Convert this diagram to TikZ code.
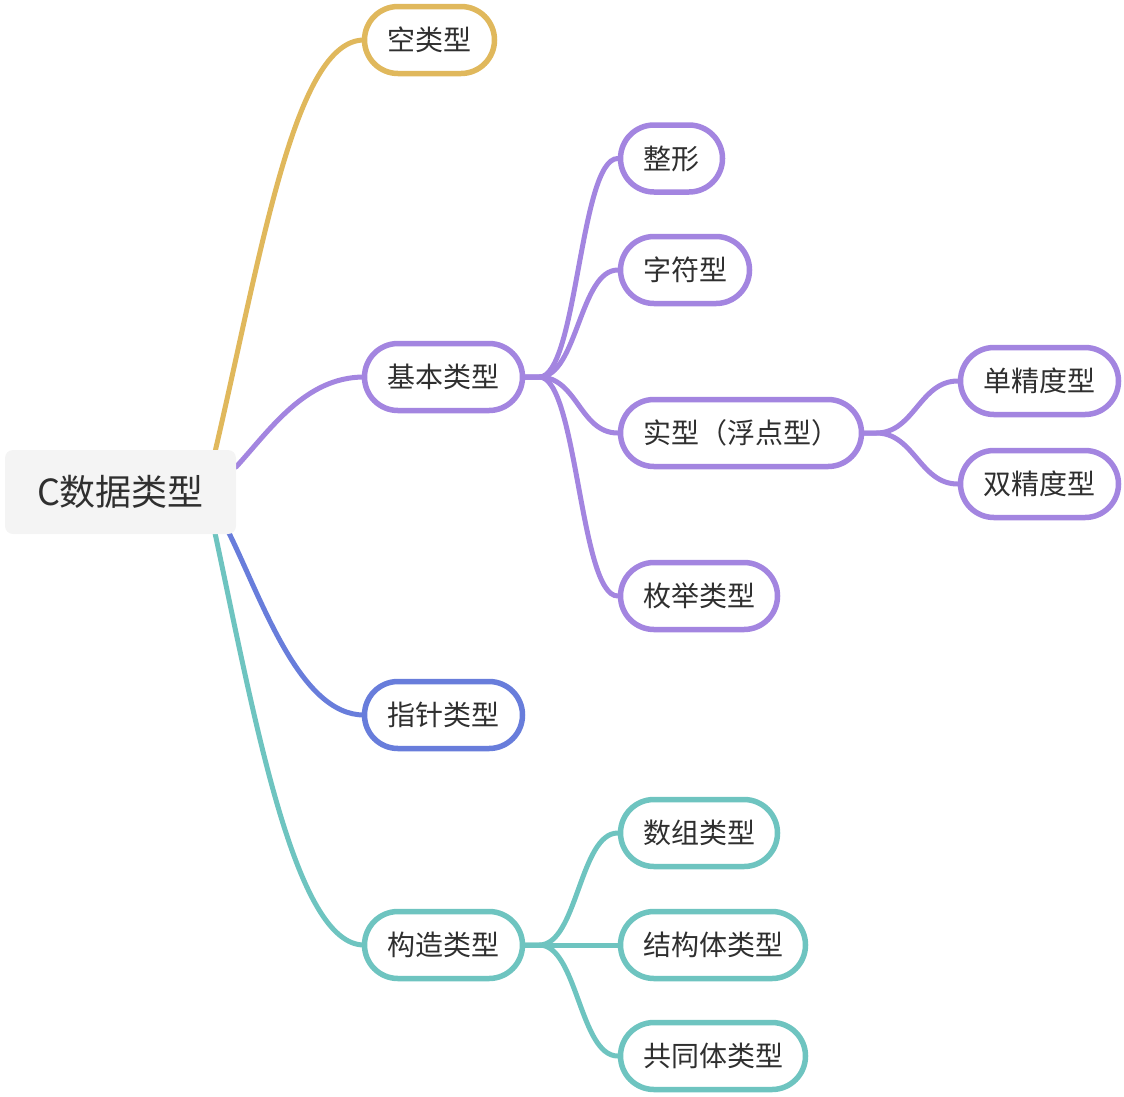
\documentclass[tikz,border=0pt]{standalone}
\usepackage{fontspec}
\newfontfamily\cjk{Noto Sans CJK SC}
\usetikzlibrary{calc}
\definecolor{cyel}{HTML}{E0B85C}
\definecolor{cpur}{HTML}{A385E0}
\definecolor{cblu}{HTML}{687DDB}
\definecolor{cteal}{HTML}{6EC4C0}
\definecolor{ctext}{HTML}{2F2F2F}
\definecolor{croot}{HTML}{F4F4F4}
\tikzset{
  pill/.style n args={2}{draw=#1, line width=5.5pt, fill=white, rounded corners=33.5pt,
    minimum width=#2, minimum height=67pt, inner sep=0pt, text=ctext,
    font=\cjk\fontsize{28}{31}\selectfont},
  rootbox/.style={fill=croot, rounded corners=8pt, minimum width=231pt, minimum height=84pt,
    inner sep=0pt, text=ctext, font=\cjk\fontsize{36}{40}\selectfont},
  link/.style={draw=#1, line width=5pt, line cap=round}
}
\begin{document}
\begin{tikzpicture}[x=1pt,y=-1pt]
\useasboundingbox (0,0) rectangle (1124,1096);
\coordinate (ry) at (215,452);
\coordinate (rp) at (236,467);
\coordinate (rb) at (229,533);
\coordinate (rt) at (215,533);
\coordinate (kw) at (364,40);
\coordinate (jw) at (364,377);
\coordinate (zw) at (364,715);
\coordinate (gw) at (364,945);

\draw[link=cyel] (ry) .. controls (262,250) and (295,40) .. (kw);
\draw[link=cpur] (rp) .. controls (270,430) and (305,377) .. (jw);
\draw[link=cblu] (rb) .. controls (262,600) and (300,715) .. (zw);
\draw[link=cteal] (rt) .. controls (255,720) and (295,945) .. (gw);

\node[rootbox] (root) at (120.5,492) {C数据类型};

\node[pill={cyel}{130pt}] (kong) at (429.5,40) {空类型};
\node[pill={cpur}{158pt}] (jiben) at (443.5,377) {基本类型};
\node[pill={cblu}{158pt}] (zhizhen) at (443.5,715) {指针类型};
\node[pill={cteal}{158pt}] (gouzao) at (443.5,945) {构造类型};

\node[pill={cpur}{102pt}] (zheng) at (671.5,158.5) {整形};
\node[pill={cpur}{129pt}] (zifu) at (685,270) {字符型};
\node[pill={cpur}{241pt}] (shi) at (741,433) {实型（浮点型）};
\node[pill={cpur}{157pt}] (meiju) at (699,596) {枚举类型};
\node[pill={cpur}{158pt}] (dan) at (1039.5,381) {单精度型};
\node[pill={cpur}{158pt}] (shuang) at (1039.5,484) {双精度型};

\node[pill={cteal}{157pt}] (shuzu) at (699,833) {数组类型};
\node[pill={cteal}{185pt}] (jiegou) at (713,945) {结构体类型};
\node[pill={cteal}{185pt}] (gongtong) at (713,1056) {共同体类型};

\coordinate (jb) at ($(jiben.east)+(14,0)$);
\coordinate (sb) at ($(shi.east)+(12,0)$);
\coordinate (gb) at ($(gouzao.east)+(14,0)$);

\foreach \c in {zheng,zifu,shi,meiju}{
  \draw[link=cpur] (jiben.east) -- (jb) .. controls ($(jb)+(38,0)$) and ($(\c.west)+(-38,0)$) .. (\c.west);
}
\foreach \c in {dan,shuang}{
  \draw[link=cpur] (shi.east) -- (sb) .. controls ($(sb)+(38,0)$) and ($(\c.west)+(-38,0)$) .. (\c.west);
}
\foreach \c in {shuzu,jiegou,gongtong}{
  \draw[link=cteal] (gouzao.east) -- (gb) .. controls ($(gb)+(38,0)$) and ($(\c.west)+(-38,0)$) .. (\c.west);
}
\end{tikzpicture}
\end{document}
